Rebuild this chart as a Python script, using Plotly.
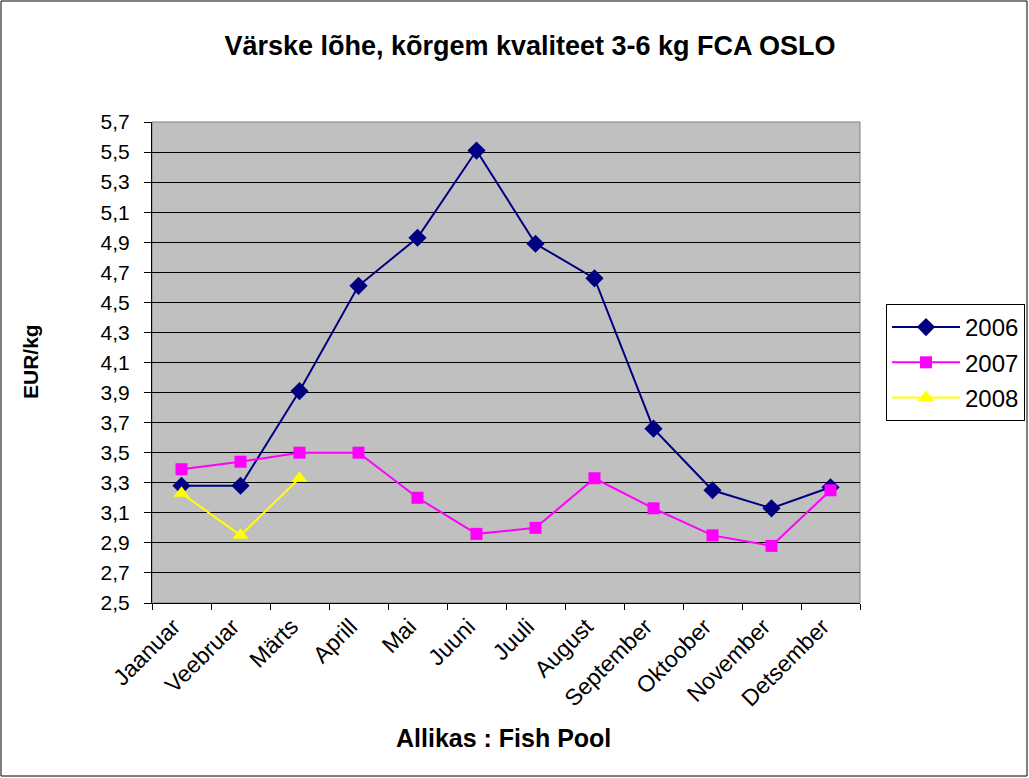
import plotly.graph_objects as go

months = ["Jaanuar", "Veebruar", "Märts", "Aprill", "Mai", "Juuni", "Juuli",
          "August", "September", "Oktoober", "November", "Detsember"]
y2006 = [3.28, 3.28, 3.91, 4.61, 4.93, 5.51, 4.89, 4.66, 3.66, 3.25, 3.13, 3.27]
y2007 = [3.39, 3.44, 3.50, 3.50, 3.20, 2.96, 3.00, 3.33, 3.13, 2.95, 2.88, 3.25]
y2008 = [3.23, 2.95, 3.33]
y_ticks = [2.5, 2.7, 2.9, 3.1, 3.3, 3.5, 3.7, 3.9, 4.1, 4.3, 4.5, 4.7, 4.9, 5.1, 5.3, 5.5, 5.7]

W, H = 1029, 778
L, R, T, B = 152, 860, 122, 603
PW, PH = R - L, B - T
FONT = "Arial, Liberation Sans, sans-serif"

fig = go.Figure()
fig.add_trace(go.Scatter(x=months, y=y2006, name="2006", mode="lines+markers",
                         legendgroup="a",
                         line=dict(color="#000080", width=2),
                         marker=dict(symbol="diamond", size=14, color="#000080")))
fig.add_trace(go.Scatter(x=months, y=y2007, name="2007", mode="lines+markers",
                         legendgroup="b",
                         line=dict(color="#FF00FF", width=2),
                         marker=dict(symbol="square", size=12, color="#FF00FF")))
fig.add_trace(go.Scatter(x=months[:len(y2008)], y=y2008, name="2008", mode="lines+markers",
                         legendgroup="c",
                         line=dict(color="#FFFF00", width=2),
                         marker=dict(symbol="triangle-up", size=14, color="#FFFF00")))

fig.update_layout(
    width=W, height=H,
    margin=dict(l=L, r=W - R, t=T, b=H - B, pad=0),
    paper_bgcolor="white", plot_bgcolor="#C0C0C0",
    font=dict(family=FONT, size=20, color="black"),
    title=dict(text="<b>Värske lõhe, kõrgem kvaliteet 3-6 kg FCA OSLO</b>",
               x=530 / W, xanchor="center", y=1 - 46 / H, yanchor="middle",
               font=dict(size=27)),
    showlegend=True,
    legend=dict(xref="container", yref="container",
                x=886 / W, xanchor="left", y=1 - 304 / H, yanchor="top",
                bordercolor="black", borderwidth=1, bgcolor="white",
                font=dict(size=24), traceorder="grouped", tracegroupgap=1,
                itemwidth=68),
    xaxis=dict(type="category", tickson="boundaries", ticks="outside", ticklen=6,
               tickcolor="black", showline=True, linecolor="black", linewidth=1,
               showgrid=False, tickangle=-45, range=[-0.5, 11.5], automargin=False,
               ticklabelshift=-8,
               tickfont=dict(size=23)),
    yaxis=dict(range=[2.5, 5.7], tickvals=y_ticks,
               ticktext=[f"{v:.1f}".replace(".", ",") for v in y_ticks],
               ticks="outside", ticklen=7, tickcolor="black",
               showline=True, linecolor="black", linewidth=1, automargin=False,
               showgrid=True, gridcolor="black", gridwidth=1, zeroline=False,
               ticklabelstandoff=10,
               tickfont=dict(size=21)),
)

fig.add_annotation(text="<b>Allikas : Fish Pool</b>", xref="paper", yref="paper",
                   x=(503 - L) / PW, y=(B - 738) / PH,
                   xanchor="center", yanchor="middle", showarrow=False,
                   font=dict(size=25))
fig.add_annotation(text="<b>EUR/kg</b>", xref="paper", yref="paper",
                   x=(30 - L) / PW, y=(B - 362) / PH, textangle=-90,
                   xanchor="center", yanchor="middle", showarrow=False,
                   font=dict(size=21))

fig.add_shape(type="rect", xref="paper", yref="paper",
              x0=(1 - L) / PW, x1=(W - 2 - L) / PW,
              y0=(B - (H - 2)) / PH, y1=(B - 1) / PH,
              line=dict(color="black", width=1), fillcolor="rgba(0,0,0,0)", layer="below")
fig.add_shape(type="rect", xref="paper", yref="paper", x0=0, x1=1, y0=0, y1=1,
              line=dict(color="#808080", width=1), layer="below")

fig.write_html("out.html", config={"displayModeBar": False},
               post_script="document.body.style.margin='0';")
